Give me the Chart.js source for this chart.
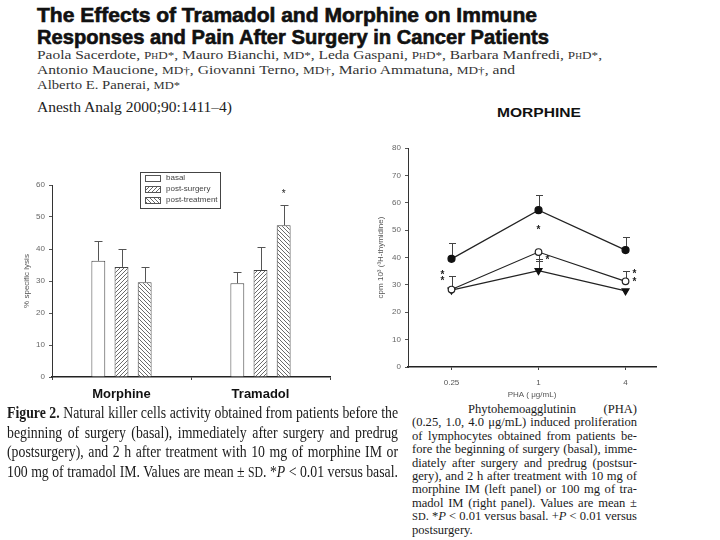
<!DOCTYPE html>
<html>
<head>
<meta charset="utf-8">
<script src="https://cdn.jsdelivr.net/npm/chart.js@4.4.1/dist/chart.umd.min.js"></script>
<style>
  html,body{margin:0;padding:0;background:#fff;}
  body{width:720px;height:540px;position:relative;overflow:hidden;}
  .ln{position:absolute;white-space:nowrap;transform-origin:0 0;color:#1a1a1a;}
  .ttl{-webkit-text-stroke:0.6px #111;}
  .blk{position:absolute;transform-origin:0 0;color:#1a1a1a;}
  .blk .jl{display:block;white-space:nowrap;box-sizing:border-box;}
  canvas{position:absolute;}
  .sc{font-variant:small-caps;font-size:0.85em;}
</style>
</head>
<body>
<div class="ln ttl" data-w="500" style="left:37px;top:4px;font:bold 20px 'Liberation Sans',Arial,sans-serif;line-height:22px;color:#111">The Effects of Tramadol and Morphine on Immune</div>
<div class="ln ttl" data-w="512" style="left:37px;top:26px;font:bold 20px 'Liberation Sans',Arial,sans-serif;line-height:22px;color:#111">Responses and Pain After Surgery in Cancer Patients</div>
<div class="ln" data-w="565" style="left:37px;top:47px;font:13px 'Liberation Serif',serif;line-height:16px;color:#333">Paola Sacerdote, <span class="sc">PhD*</span>, Mauro Bianchi, <span class="sc">MD*</span>, Leda Gaspani, <span class="sc">PhD*</span>, Barbara Manfredi, <span class="sc">PhD*</span>,</div>
<div class="ln" data-w="478" style="left:37px;top:62px;font:13px 'Liberation Serif',serif;line-height:16px;color:#333">Antonio Maucione, <span class="sc">MD†</span>, Giovanni Terno, <span class="sc">MD†</span>, Mario Ammatuna, <span class="sc">MD†</span>, and</div>
<div class="ln" data-w="143" style="left:37px;top:77px;font:13px 'Liberation Serif',serif;line-height:16px;color:#333">Alberto E. Panerai, <span class="sc">MD*</span></div>
<div class="ln" data-w="195" style="left:37px;top:98px;font:15px 'Liberation Serif',serif;line-height:18px;color:#222">Anesth Analg 2000;90:1411–4)</div>
<div class="ln" data-w="84" style="left:497px;top:105px;font:bold 13px 'Liberation Sans',Arial,sans-serif;line-height:16px;color:#111">MORPHINE</div>

<canvas id="left" width="335" height="250" style="left:0;top:160px;width:335px;height:250px"></canvas>
<canvas id="right" width="300" height="270" style="left:370px;top:130px;width:300px;height:270px"></canvas>

<div class="blk" id="capL" data-w="391" style="left:7px;top:403px;font:16px 'Liberation Serif',serif;line-height:19.7px;color:#1a1a1a">
  <span class="jl j"><b>Figure 2.</b> Natural killer cells activity obtained from patients before the</span>
  <span class="jl j">beginning of surgery (basal), immediately after surgery and predrug</span>
  <span class="jl j">(postsurgery), and 2 h after treatment with 10 mg of morphine IM or</span>
  <span class="jl j">100 mg of tramadol IM. Values are mean ± <span class="sc">SD</span>. *<i>P</i> &lt; 0.01 versus basal.</span>
</div>
<div class="blk" id="capR" data-w="225" style="left:412px;top:403px;font:12.5px 'Liberation Serif',serif;line-height:13.4px;color:#1a1a1a">
  <span class="jl j" data-indent="56">Phytohemoagglutinin (PHA)</span>
  <span class="jl j">(0.25, 1.0, 4.0 μg/mL) induced proliferation</span>
  <span class="jl j">of lymphocytes obtained from patients be-</span>
  <span class="jl j">fore the beginning of surgery (basal), imme-</span>
  <span class="jl j">diately after surgery and predrug (postsur-</span>
  <span class="jl j">gery), and 2 h after treatment with 10 mg of</span>
  <span class="jl j">morphine IM (left panel) or 100 mg of tra-</span>
  <span class="jl j">madol IM (right panel). Values are mean ±</span>
  <span class="jl j"><span class="sc">SD</span>. *<i>P</i> &lt; 0.01 versus basal. +<i>P</i> &lt; 0.01 versus</span>
  <span class="jl">postsurgery.</span>
</div>

<script>
// ---------- DATA: left panel (NK activity, % specific lysis) ----------
const groups = ['Morphine', 'Tramadol'];
const seriesNames = ['basal', 'post-surgery', 'post-treatment'];
const basal = [36.3, 29.3];
const postSurgery = [34.4, 33.4];
const postTreatment = [29.6, 47.4];
const basalSD = [42.5, 32.9];          // upper end of error bar
const postSurgerySD = [40.0, 40.6];
const postTreatmentSD = [34.4, 53.8];
const leftStars = [[1, 2, 57.6]];      // [group index, series index, value]
const leftTicks = [0, 10, 20, 30, 40, 50, 60];

// ---------- DATA: right panel (PHA proliferation, morphine) ----------
const phaLabels = ['0.25', '1', '4'];
const treated = [39.5, 57.3, 42.7];
const treatedSD = [45.2, 63.0, 47.4];
const postSurg = [28.3, 42.0, 31.3];
const postSurgSD = [null, 38.8, 35.0];
const basalR = [28.1, 35.2, 27.8];
const basalRSD = [33.3, 39.3, null];
const rightStars = [[0, 34.4, -1], [0, 32.2, -1], [1, 50.7, 0], [1, 39.6, 1], [2, 34.6, 1], [2, 31.6, 1]];
const rightTicks = [0, 10, 20, 30, 40, 50, 60, 70, 80];

// ---------- hatch patterns ----------
function hatch(size, forward, color) {
  const c = document.createElement('canvas');
  c.width = size; c.height = size;
  const g = c.getContext('2d');
  g.fillStyle = '#fff'; g.fillRect(0, 0, size, size);
  g.strokeStyle = color; g.lineWidth = 1;
  g.beginPath();
  if (forward) {
    g.moveTo(-1, size + 1); g.lineTo(size + 1, -1);
    g.moveTo(-1, 1); g.lineTo(1, -1);
    g.moveTo(size - 1, size + 1); g.lineTo(size + 1, size - 1);
  } else {
    g.moveTo(-1, -1); g.lineTo(size + 1, size + 1);
    g.moveTo(size - 1, -1); g.lineTo(size + 1, 1);
    g.moveTo(-1, size - 1); g.lineTo(1, size + 1);
  }
  g.stroke();
  return g.createPattern(c, 'repeat');
}
const patFwd = hatch(4, true, '#6a6a6a');
const patBack = hatch(4, false, '#6a6a6a');

// ---------- plugins ----------
const barErr = {
  id: 'barErr',
  afterDatasetsDraw(chart) {
    const ctx = chart.ctx, y = chart.scales.y;
    ctx.save();
    ctx.strokeStyle = '#555'; ctx.lineWidth = 1;
    chart.data.datasets.forEach((ds, i) => {
      const meta = chart.getDatasetMeta(i);
      meta.data.forEach((el, j) => {
        const hi = ds.errHi[j];
        const x = Math.round(el.x) + 0.5;
        const y0 = y.getPixelForValue(ds.data[j]), y1 = Math.round(y.getPixelForValue(hi)) + 0.5;
        ctx.beginPath();
        ctx.moveTo(x, y0); ctx.lineTo(x, y1);
        ctx.moveTo(x - 4, y1); ctx.lineTo(x + 4, y1);
        ctx.stroke();
      });
    });
    ctx.fillStyle = '#222'; ctx.font = '10px "Liberation Sans", Arial'; ctx.textAlign = 'center'; ctx.textBaseline = 'middle';
    leftStars.forEach(([g, s, v]) => {
      const el = chart.getDatasetMeta(s).data[g];
      ctx.fillText('*', el.x, y.getPixelForValue(v) + 2);
    });
    // legend box
    const bx = 140, by = 12, bw = 80, bh = 36;
    ctx.strokeStyle = '#444'; ctx.lineWidth = 1;
    ctx.fillStyle = '#fff';
    ctx.fillRect(bx, by, bw, bh);
    ctx.strokeRect(bx + 0.5, by + 0.5, bw, bh);
    ctx.font = '8px "Liberation Sans", Arial'; ctx.textAlign = 'left';
    chart.data.datasets.forEach((ds, i) => {
      const cy = by + 6 + i * 11;
      ctx.fillStyle = ds.backgroundColor;
      ctx.fillRect(bx + 5, cy - 3, 15, 6);
      ctx.strokeStyle = '#555';
      ctx.strokeRect(bx + 5.5, cy - 2.5, 15, 6);
      ctx.fillStyle = '#444';
      ctx.fillText(ds.label, bx + 26, cy);
    });
    ctx.restore();
  }
};

const lineErr = {
  id: 'lineErr',
  beforeDatasetsDraw(chart) {
    const ctx = chart.ctx, y = chart.scales.y;
    ctx.save();
    ctx.strokeStyle = '#444'; ctx.lineWidth = 1;
    chart.data.datasets.forEach((ds, i) => {
      const meta = chart.getDatasetMeta(i);
      meta.data.forEach((el, j) => {
        const e = ds.err[j];
        if (e == null) return;
        const x = Math.round(el.x) + 0.5;
        const y0 = y.getPixelForValue(ds.data[j].y), y1 = Math.round(y.getPixelForValue(e)) + 0.5;
        ctx.beginPath();
        ctx.moveTo(x, y0); ctx.lineTo(x, y1);
        ctx.moveTo(x - 3.5, y1); ctx.lineTo(x + 3.5, y1);
        ctx.stroke();
      });
    });
    ctx.restore();
  },
  afterDatasetsDraw(chart) {
    const ctx = chart.ctx, y = chart.scales.y, x = chart.scales.x;
    ctx.save();
    ctx.fillStyle = '#222'; ctx.font = 'bold 10px "Liberation Sans", Arial'; ctx.textAlign = 'center'; ctx.textBaseline = 'middle';
    rightStars.forEach(([i, v, side]) => {
      ctx.fillText('*', x.getPixelForValue(i) + side * 9, y.getPixelForValue(v) + 2);
    });
    ctx.restore();
  }
};

Chart.defaults.font.family = '"Liberation Sans", Arial, sans-serif';
Chart.defaults.animation = false;

new Chart(document.getElementById('left'), {
  type: 'bar',
  data: {
    labels: groups,
    datasets: [
      { label: seriesNames[0], data: basal, errHi: basalSD, backgroundColor: '#ffffff', borderColor: '#444', borderWidth: 1 },
      { label: seriesNames[1], data: postSurgery, errHi: postSurgerySD, backgroundColor: patFwd, borderColor: '#444', borderWidth: 1 },
      { label: seriesNames[2], data: postTreatment, errHi: postTreatmentSD, backgroundColor: patBack, borderColor: '#444', borderWidth: 1 }
    ]
  },
  options: {
    responsive: false,
    devicePixelRatio: 1,
    layout: { padding: { top: 25, right: 5, left: 20, bottom: 0 } },
    plugins: { legend: { display: false }, tooltip: { enabled: false } },
    datasets: { bar: { categoryPercentage: 0.5, barPercentage: 0.6 } },
    scales: {
      x: {
        grid: { drawOnChartArea: false, tickLength: 3, color: '#444' },
        border: { color: '#222', width: 1.5 },
        ticks: { font: { weight: 'bold', size: 13 }, color: '#111', padding: 7 },
        afterFit(s) { s.height = 33; }
      },
      y: {
        min: 0, max: 60,
        afterBuildTicks(s) { s.ticks = leftTicks.map(v => ({ value: v })); },
        ticks: { font: { size: 8 }, color: '#666', padding: 4 },
        grid: { drawOnChartArea: false, tickLength: 3, color: '#555' },
        border: { color: '#333' },
        title: { display: true, text: '% specific lysis', font: { size: 8 }, color: '#555', padding: 2 },
        afterFit(s) { s.width = 32; }
      }
    }
  },
  plugins: [barErr]
});

const pts = arr => arr.map((v, i) => ({ x: i, y: v }));
new Chart(document.getElementById('right'), {
  type: 'line',
  data: {
    datasets: [
      { label: 'post-treatment', data: pts(treated), err: treatedSD, borderColor: '#222', borderWidth: 1.2,
        pointStyle: 'circle', pointRadius: 3.5, pointBackgroundColor: '#111', pointBorderColor: '#111' },
      { label: 'post-surgery', data: pts(postSurg), err: postSurgSD, borderColor: '#222', borderWidth: 1.2,
        pointStyle: 'circle', pointRadius: 3.3, pointBackgroundColor: '#fff', pointBorderColor: '#222' },
      { label: 'basal', data: pts(basalR), err: basalRSD, borderColor: '#222', borderWidth: 1.2,
        pointStyle: 'triangle', pointRotation: 180, pointRadius: 4, pointBackgroundColor: '#111', pointBorderColor: '#111' }
    ]
  },
  options: {
    responsive: false,
    devicePixelRatio: 1,
    layout: { padding: { top: 18, right: 14, left: 4, bottom: 0 } },
    plugins: { legend: { display: false }, tooltip: { enabled: false } },
    scales: {
      x: {
        type: 'linear', min: -0.5, max: 2.35,
        afterBuildTicks(s) { s.ticks = phaLabels.map((l, i) => ({ value: i })); },
        ticks: { callback: v => phaLabels[v], font: { size: 8 }, color: '#555', padding: 8 },
        grid: { drawOnChartArea: false, tickLength: 3, color: '#444' },
        border: { color: '#222', width: 1.5 },
        title: { display: true, text: 'PHA ( μg/mL)', font: { size: 8 }, color: '#555', padding: { top: 2, bottom: 0 } },
        afterFit(s) { s.height = 33; }
      },
      y: {
        min: 0, max: 80,
        afterBuildTicks(s) { s.ticks = rightTicks.map(v => ({ value: v })); },
        ticks: { font: { size: 8 }, color: '#666', padding: 4 },
        grid: { drawOnChartArea: false, tickLength: 3, color: '#555' },
        border: { color: '#333' },
        title: { display: true, text: 'cpm 10³ (³H-thymidine)', font: { size: 8 }, color: '#555', padding: 2 },
        afterFit(s) { s.width = 34; }
      }
    }
  },
  plugins: [lineErr]
});

// ---------- text fitting ----------
function fitText() {
  document.querySelectorAll('.ln').forEach(el => {
    el.style.width = 'max-content';
    const nat = el.getBoundingClientRect().width;
    const w = parseFloat(el.dataset.w);
    el.style.transform = 'scaleX(' + (w / nat) + ')';
  });
  document.querySelectorAll('.blk').forEach(b => {
    const w = parseFloat(b.dataset.w);
    const lines = [...b.querySelectorAll('.jl')];
    let maxNat = 0;
    lines.forEach(l => {
      l.style.width = 'max-content';
      const ind = parseFloat(l.dataset.indent || 0);
      maxNat = Math.max(maxNat, l.getBoundingClientRect().width + ind);
    });
    const s = w / maxNat;
    b.style.transform = 'scaleX(' + s + ')';
    lines.forEach(l => {
      l.style.width = (w / s) + 'px';
      if (l.dataset.indent) l.style.paddingLeft = (parseFloat(l.dataset.indent) / s) + 'px';
      if (l.classList.contains('j')) { l.style.textAlign = 'justify'; l.style.textAlignLast = 'justify'; }
    });
  });
}
if (document.fonts && document.fonts.ready) document.fonts.ready.then(fitText); else fitText();
</script>
</body>
</html>
